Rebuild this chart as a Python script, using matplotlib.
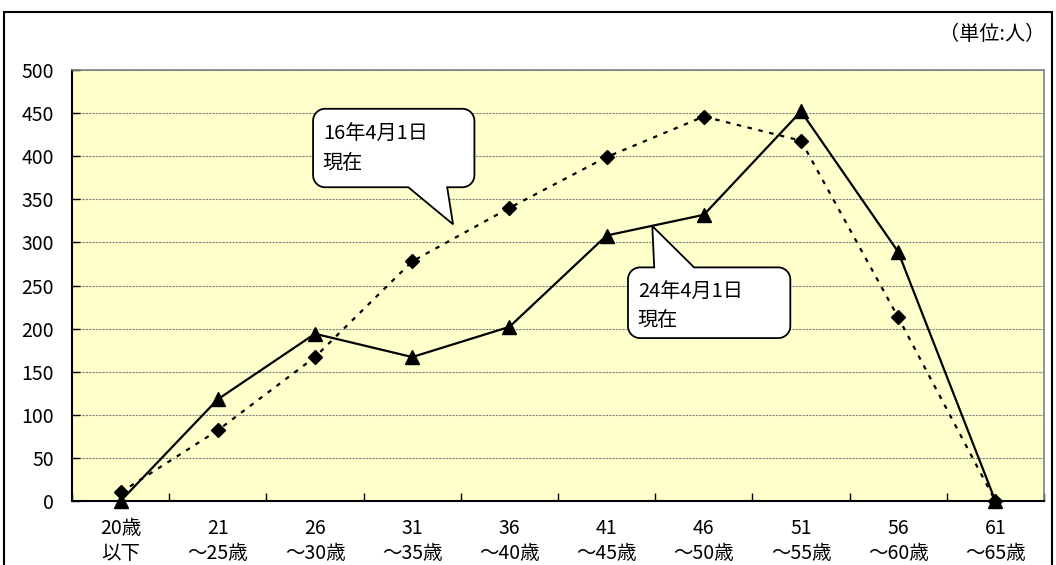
import numpy as np
import matplotlib
matplotlib.use('Agg')
import matplotlib.pyplot as plt
from matplotlib.patches import Polygon, Rectangle
from matplotlib.transforms import IdentityTransform

plt.rcParams['font.family'] = ['Noto Sans CJK JP', 'DejaVu Sans']

# 年齢区分ごとの人数
age_labels = ['20歳\n以下', '21\n～25歳', '26\n～30歳', '31\n～35歳', '36\n～40歳',
              '41\n～45歳', '46\n～50歳', '51\n～55歳', '56\n～60歳', '61\n～65歳']
h16 = [10, 82, 167, 278, 340, 399, 446, 418, 213, 0]
h24 = [0, 118, 194, 167, 202, 308, 332, 452, 289, 0]
yticks = np.arange(0, 501, 50)


def arc(cx, cy, r, a0, a1, n=12):
    t = np.radians(np.linspace(a0, a1, n))
    return list(zip(cx + r * np.cos(t), cy + r * np.sin(t)))


def callout(ax, text, box, tip, base, text_xy, r=12):
    # box = (x0, x1, y0, y1), tip = (x, y), base = (xa, xb) -- all in data units
    T = ax.transData
    (l, b), (rt, t) = T.transform([(box[0], box[2]), (box[1], box[3])])
    l, rt = min(l, rt), max(l, rt)
    b, t = min(b, t), max(b, t)
    tx, ty = T.transform(tip)
    xa = T.transform((base[0], 0))[0]
    xb = T.transform((base[1], 0))[0]
    pts = []
    # bottom edge, left to right
    pts.append((l + r, b))
    if ty < b:
        pts += [(xa, b), (tx, ty), (xb, b)]
    pts.append((rt - r, b))
    pts += arc(rt - r, b + r, r, -90, 0)
    pts += arc(rt - r, t - r, r, 0, 90)
    # top edge, right to left
    if ty > t:
        pts += [(xb, t), (tx, ty), (xa, t)]
    pts += arc(l + r, t - r, r, 90, 180)
    pts += arc(l + r, b + r, r, 180, 270)
    poly = Polygon(pts, closed=True, facecolor='white', edgecolor='black',
                   lw=1.3, transform=IdentityTransform(), zorder=6)
    ax.add_artist(poly)
    ax.text(text_xy[0], text_xy[1], text, ha='left', va='top', fontsize=14.5,
            linespacing=1.45, zorder=7)


fig = plt.figure(figsize=(10.56, 5.65), dpi=100)
ax = fig.add_axes([72 / 1056, 1 - 501 / 565, (1044 - 72) / 1056, (501 - 70) / 565])
ax.set_facecolor('#FFFFCC')

x = np.arange(len(age_labels))
ax.plot(x, h16, color='black', lw=1.6, ls=(0, (2, 3)), marker='D', ms=7,
        zorder=3, clip_on=False)
ax.plot(x, h24, color='black', lw=1.6, marker='^', ms=9.5, zorder=4, clip_on=False)

ax.set_xlim(-0.5, 9.5)
ax.set_ylim(0, 500)
ax.set_yticks(yticks)
ax.set_xticks(x)
ax.set_xticklabels(age_labels, fontsize=14, linespacing=1.25)
ax.set_xticks(np.arange(-0.5, 10, 1), minor=True)
ax.tick_params(axis='x', which='major', length=0, pad=12)
ax.tick_params(axis='x', which='minor', direction='in', length=6, width=1)
ax.tick_params(axis='y', direction='in', length=6, width=1, pad=13, labelsize=14)
ax.grid(axis='y', color='#808080', ls=(0, (2, 1)), lw=0.8)
ax.set_axisbelow(True)
for s in ['top', 'right']:
    ax.spines[s].set_color('#808080')
    ax.spines[s].set_linewidth(1.2)
for s in ['left', 'bottom']:
    ax.spines[s].set_color('black')
    ax.spines[s].set_linewidth(1.5)

callout(ax, '16年4月1日\n現在', box=(1.98, 3.64, 364, 455), tip=(3.42, 321),
        base=(2.96, 3.36), text_xy=(2.08, 437))
callout(ax, '24年4月1日\n現在', box=(5.22, 6.89, 189, 271), tip=(5.47, 319),
        base=(5.49, 5.90), text_xy=(5.32, 254))

fig.text(1045 / 1056, 1 - 35 / 565, '（単位:人）', ha='right', va='center', fontsize=14.5)

# 外枠
fig.add_artist(Rectangle((4 / 1056, -0.05), 1048 / 1056, 1.05 - 12 / 565,
                         transform=fig.transFigure, fill=False, edgecolor='black',
                         lw=1.5))

fig.savefig('out.png', dpi=100, facecolor='white')
